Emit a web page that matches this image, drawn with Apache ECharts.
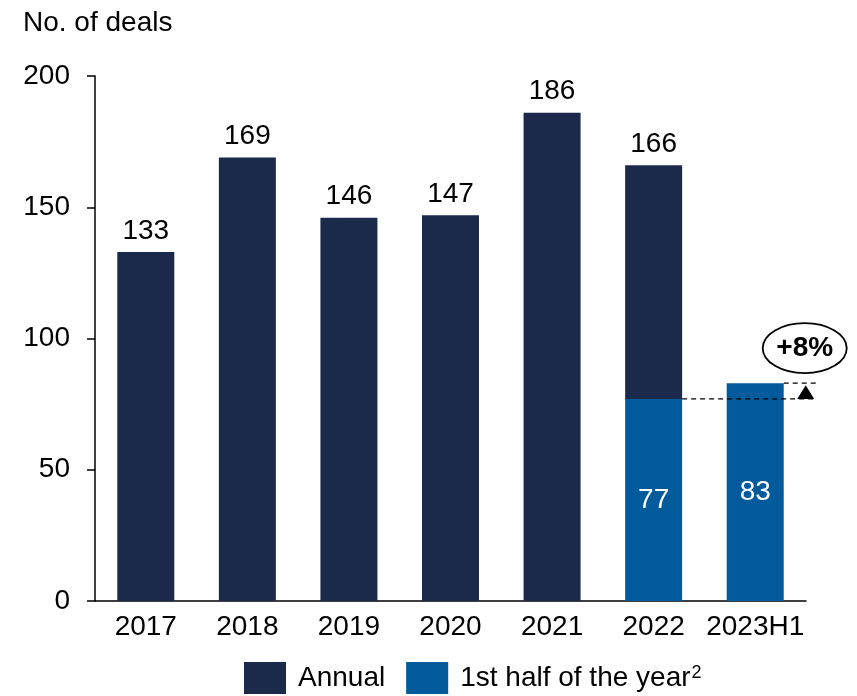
<!DOCTYPE html>
<html><head><meta charset="utf-8">
<script src="https://cdn.jsdelivr.net/npm/echarts@6/dist/echarts.min.js"></script>
<style>html,body{margin:0;padding:0;background:#fff}#c{width:857px;height:696px}</style>
</head><body><div id="c"></div>
<script>
const categories = ['2017','2018','2019','2020','2021','2022','2023H1'];
const annualTotals = [133,169,146,147,186,166,null];
const firstHalf = [null,null,null,null,null,77,83];
const yTicks = [0,50,100,150,200];
const changeLabel = '+8%';
const seriesNames = ['Annual','1st half of the year'];
const footnoteMark = '2';

const NAVY = '#1b294b', BLUE = '#005a9b';
const FONT = 'Liberation Sans, Arial, sans-serif';

const annualSegment = annualTotals.map((t,i)=> t==null ? null : t - (firstHalf[i]||0));

const chart = echarts.init(document.getElementById('c'));
chart.setOption({
  animation:false,
  textStyle:{fontFamily:FONT},
  title:{text:'No. of deals',left:18,top:4,textStyle:{fontSize:28,fontWeight:'normal',color:'#000',fontFamily:FONT}},
  grid:{left:95,right:51,top:76,bottom:95},
  legend:{
    data:[seriesNames[0],seriesNames[1]],
    left:244,top:662,padding:0,itemWidth:42,itemHeight:32,itemGap:21,
    icon:'rect',
    formatter:n=> n===seriesNames[1] ? '{a|'+n+'}{s|'+footnoteMark+'}' : '{a|'+n+'}',
    textStyle:{fontSize:28,color:'#000',fontFamily:FONT,padding:[0,0,0,7],
      rich:{a:{fontSize:28,color:'#000',fontFamily:FONT},
            s:{fontSize:18,color:'#000',fontFamily:FONT,padding:[0,0,10,1]}}}
  },
  xAxis:{
    type:'category',data:categories,
    axisLine:{lineStyle:{color:'#000',width:1.5}},
    axisTick:{show:false},
    axisLabel:{interval:0,fontSize:28,color:'#000',margin:12,fontFamily:FONT}
  },
  yAxis:{
    type:'value',min:yTicks[0],max:yTicks[yTicks.length-1],interval:50,
    axisLine:{show:true,lineStyle:{color:'#000',width:1.5}},
    axisTick:{show:true,inside:false,length:8,lineStyle:{color:'#000',width:1.5}},
    splitLine:{show:false},
    axisLabel:{fontSize:28,color:'#000',margin:25,fontFamily:FONT}
  },
  series:[
    {name:seriesNames[1],type:'bar',stack:'s',barWidth:57,data:firstHalf,
     itemStyle:{color:BLUE},
     label:{show:true,position:'inside',color:'#fff',fontSize:28,fontFamily:FONT}},
    {name:seriesNames[0],type:'bar',stack:'s',barWidth:57,data:annualSegment,
     itemStyle:{color:NAVY},
     label:{show:true,position:'top',distance:7,color:'#000',fontSize:28,fontFamily:FONT,
       formatter:p=>annualTotals[p.dataIndex]}}
  ]
});

function addAnnotation(){
  const i22 = 5, i23 = 6;
  const c22 = chart.convertToPixel({xAxisIndex:0}, categories[i22]);
  const c23 = chart.convertToPixel({xAxisIndex:0}, categories[i23]);
  const yLow = chart.convertToPixel({yAxisIndex:0}, firstHalf[i22]);
  const yHigh = chart.convertToPixel({yAxisIndex:0}, firstHalf[i23]);
  const half = 57/2;
  const xEnd = c23 + half + 32;
  const ax = c23 + half + 22;
  const dash = {stroke:'#000',lineWidth:1.2,lineDash:[5,4]};
  chart.setOption({graphic:[
    {type:'line',shape:{x1:c22+half,y1:yLow,x2:xEnd,y2:yLow},style:dash,z:10},
    {type:'line',shape:{x1:c23+half,y1:yHigh,x2:xEnd,y2:yHigh},style:dash,z:10},
    {type:'polygon',shape:{points:[[ax-8.5,yLow],[ax+8.5,yLow],[ax,yHigh+2]]},style:{fill:'#000'},z:11},
    {type:'ellipse',shape:{cx:ax-1,cy:yHigh-35,rx:42,ry:25},style:{fill:'#fff',stroke:'#000',lineWidth:1.8},z:11},
    {type:'text',x:ax-1,y:yHigh-35,style:{text:changeLabel,fontSize:28,fontWeight:'bold',fontFamily:FONT,fill:'#000',align:'center',verticalAlign:'middle'},z:12}
  ]});
}
addAnnotation();
</script></body></html>
